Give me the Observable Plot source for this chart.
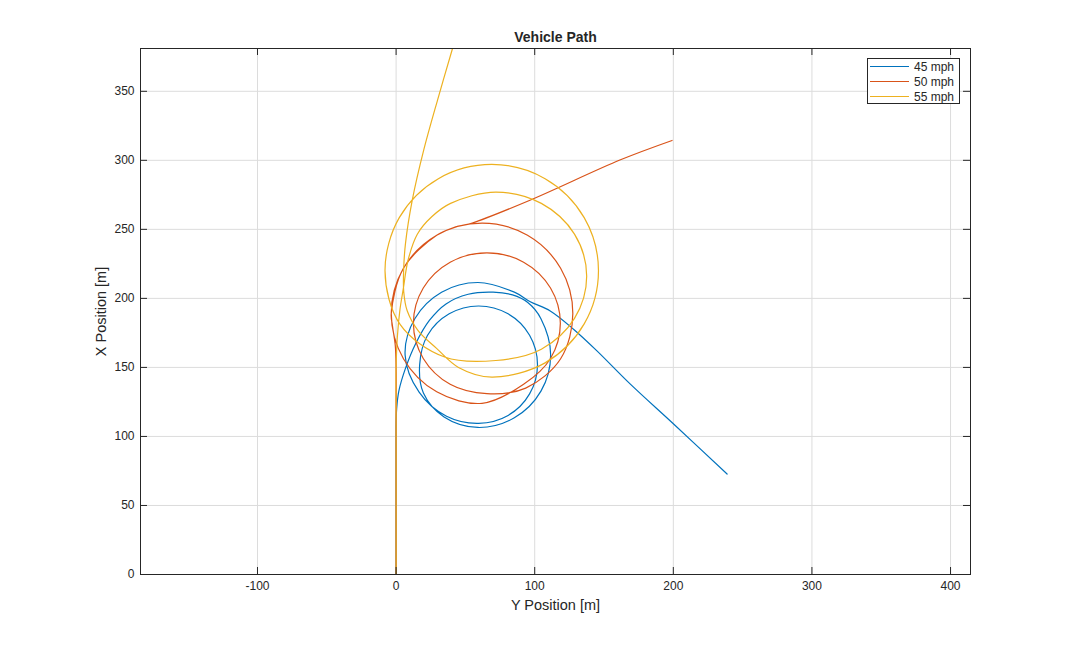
<!DOCTYPE html>
<html><head><meta charset="utf-8">
<script src="https://cdn.jsdelivr.net/npm/d3@7"></script>
<script src="https://cdn.jsdelivr.net/npm/@observablehq/plot@0.6"></script>
<style>
html,body{margin:0;padding:0;background:#fff;}
#wrap{position:relative;width:1074px;height:646px;font-family:"Liberation Sans",Arial,sans-serif;}
#legend{position:absolute;left:867px;top:58px;width:93px;height:46px;box-sizing:border-box;border:1px solid #262626;background:#fff;font-size:12px;color:#262626;}
#legend .row{position:absolute;left:2px;height:15px;display:flex;align-items:center;white-space:nowrap;}
#legend .sw{width:39px;height:0;border-top:1.3px solid;margin-right:5px;}
</style></head><body><div id="wrap"></div>
<script>
// Series names and colours
const seriesNames = ["45 mph", "50 mph", "55 mph"];
const seriesColors = ["#0072BD", "#D95319", "#EDB120"];

// 45 mph path: horizontal = Y position [m], vertical = X position [m]
const posY45 = [0,0,0,0, 0.4,2,7,14,24,36,52,70,84,95, 104.5,111.5,104.5,85.3,59, 34.6,19.7,17, 22.7,38.3,59.5,80.8,96.3,102,96.3,80.8,59.5, 36.4,16.6,6.5, 13.5,32.8,59,85.3,96.8,111.2,128,144.9,169,200.2,238.8];
const posX45 = [0,50,100,108, 120,133,150,167,184,196,203,204.5,202.5,197, 185.3,159,132.8,113.5,106.5, 114.1,131.4,152, 173.3,188.8,194.5,188.8,173.3,152,130.8,115.2,109.5, 114.6,132.1,159, 185.3,204.5,211.5,204.5,197.6,190.9,177.7,162,137.9,109,72.8];

// 50 mph path
const posY50 = [0,0,0,0,-0.6,-2.6,-3.5, 5.3,29.3,62,94.8,118.7,127.5,118.7, 93.5,65.5, 39,19.6,12.5,19.6,39,65.5,92,111.4,118.5,111.4,92, 62,29.3,5.3,-3.5,5.3,29.3,45,54.9,97,161.9,199.1];
const posX50 = [0,60,120,150,166,180,189, 221.8,245.7,254.5,245.7,221.8,189,156.3, 135,131, 137.8,156.5,182,207.5,226.2,233,226.2,207.5,182,156.5,137.8, 124,132.3,156.3,189,221.8,245.7,252.3,254.6,271.3,300.4,314.4];

// 55 mph path
const posY55 = [0,0,0,0,0.9,2.8,5.2,8.7,15.3,25.7,39.3,72,104.8,128.7,137.5,128.7,104.8,72, 35,3,-8,2.3,30.5,69,107.5,135.7,146,135.7,107.5,69, 45,29,16,8,5.5,5.5,6.8,11.7,20,30,40.7];
const posX55 = [0,60,120,150,172,192,207,228,246.5,259.1,268.8,277,268.8,246.5,216,185.5,163.2,155, 157.5,181,220,258.5,286.7,297,286.7,258.5,220,181.5,153.3,143, 150,164,176.5,191,205,222,240,271.3,307.7,344,381];

// Axis ticks
const xTicks = [-100, 0, 100, 200, 300, 400];
const yTicks = [0, 50, 100, 150, 200, 250, 300, 350];

const rows = [];
[[posY45, posX45], [posY50, posX50], [posY55, posX55]].forEach(([h, v], i) => {
  h.forEach((d, j) => rows.push({s: seriesNames[i], h: d, v: v[j]}));
});

const W = 1074, H = 646, mL = 140, mR = 104, mT = 48, mB = 72;
const plotW = W - mL - mR, plotH = H - mT - mB;
const tickLen = 7;
const ink = "#262626";

const chart = Plot.plot({
  width: W, height: H,
  marginLeft: mL, marginRight: mR, marginTop: mT, marginBottom: mB,
  style: {fontFamily: '"Liberation Sans", Arial, sans-serif', fontSize: "12px", color: ink, background: "#fff"},
  x: {domain: [-184.4, 414.4], label: null},
  y: {domain: [0, 381], label: null},
  color: {domain: seriesNames, range: seriesColors},
  marks: [
    Plot.gridX(xTicks, {stroke: "#dcdcdc", strokeOpacity: 1}),
    Plot.gridY(yTicks, {stroke: "#dcdcdc", strokeOpacity: 1}),
    Plot.line(rows, {x: "h", y: "v", z: "s", stroke: "s", curve: "catmull-rom", strokeWidth: 1.2, clip: true}),
    Plot.frame({stroke: ink}),
    Plot.tickX(xTicks, {x: d => d, insetTop: plotH - tickLen, stroke: ink}),
    Plot.tickX(xTicks, {x: d => d, insetBottom: plotH - tickLen, stroke: ink}),
    Plot.tickY(yTicks, {y: d => d, insetRight: plotW - tickLen, stroke: ink}),
    Plot.tickY(yTicks, {y: d => d, insetLeft: plotW - tickLen, stroke: ink}),
    Plot.axisX(xTicks, {anchor: "bottom", tickSize: 0, tickPadding: 7, label: null, fontSize: 12, tickFormat: d => String(d)}),
    Plot.axisY(yTicks, {anchor: "left", tickSize: 0, tickPadding: 6, label: null, fontSize: 12, tickFormat: d => String(d)}),
    Plot.text(["Vehicle Path"], {text: d => d, frameAnchor: "top", lineAnchor: "middle", dy: -11, fontWeight: "bold", fontSize: 14, fill: ink}),
    Plot.text(["Y Position [m]"], {text: d => d, frameAnchor: "bottom", lineAnchor: "middle", dy: 31, fontSize: 14.5, fill: ink}),
    Plot.text(["X Position [m]"], {text: d => d, frameAnchor: "left", textAnchor: "middle", lineAnchor: "middle", dx: -39, rotate: -90, fontSize: 14.5, fill: ink})
  ]
});

const wrap = document.getElementById("wrap");
wrap.appendChild(chart);

// Legend (inside the axes, top right)
const legend = document.createElement("div");
legend.id = "legend";
const centers = [7.7, 22.7, 37.7];
seriesNames.forEach((name, i) => {
  const row = document.createElement("div");
  row.className = "row";
  row.style.top = (centers[i] - 7.5) + "px";
  const sw = document.createElement("span");
  sw.className = "sw";
  sw.style.borderTopColor = seriesColors[i];
  const tx = document.createElement("span");
  tx.textContent = name;
  row.appendChild(sw); row.appendChild(tx);
  legend.appendChild(row);
});
wrap.appendChild(legend);
</script></body></html>
